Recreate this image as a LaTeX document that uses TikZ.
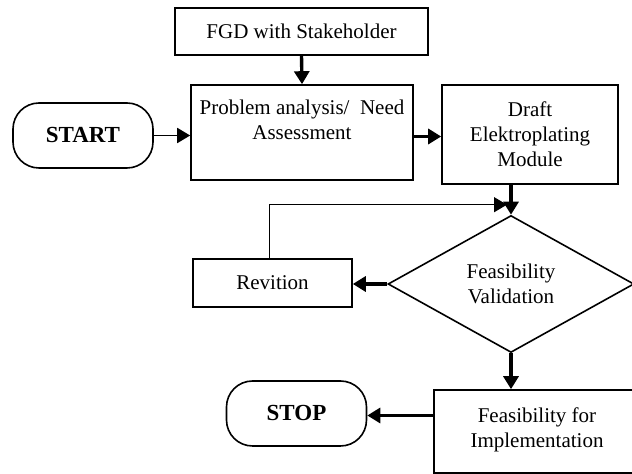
\documentclass[tikz,border=0pt]{standalone}
\usepackage{fontspec}
\setmainfont{Liberation Serif}
\usepackage{tikz}
\usetikzlibrary{shapes.geometric,arrows.meta}

\begin{document}
\begin{tikzpicture}[
   x=0.5pt,y=-0.5pt,
   font=\fontsize{10.5}{12.6}\selectfont,
   box/.style={draw,line width=0.8pt,align=center,inner sep=2pt},
   term/.style={draw,line width=0.8pt,rounded corners=13pt,minimum width=70pt,minimum height=32.5pt,font=\fontsize{11.5}{13.8}\selectfont\bfseries},
   dia/.style={draw,line width=0.8pt,diamond,aspect=1.8,inner sep=0pt,align=center,minimum width=123pt,minimum height=68.5pt},
   arr/.style={-{Triangle[length=6.5pt,width=7.5pt]},line width=1.7pt},
   thin arr/.style={-{Triangle[length=6.5pt,width=7.5pt]},line width=0.9pt},
   fb/.style={-{Triangle[length=6.5pt,width=7.5pt]},line width=0.6pt}]
\useasboundingbox (0,0) rectangle (632,474);
\node[term] (start) at (83,135.5) {START};
\node[box,minimum width=126.5pt,minimum height=23.5pt] (fgd) at (301.5,31.5) {FGD with Stakeholder};
\node[box,minimum width=111pt,minimum height=47.5pt] (prob) at (302,132.5) {Problem analysis/~~Need\\Assessment\\\mbox{}};
\node[box,minimum width=88pt,minimum height=49.5pt] (draft) at (530,134.5) {Draft\\Elektroplating\\Module};
\node[dia] (val) at (511,284) {Feasibility\\Validation};
\node[box,minimum width=79.5pt,minimum height=24pt] (rev) at (272.5,283) {Revition};
\node[box,minimum width=103pt,minimum height=41.5pt] (impl) at (537,431.5) {Feasibility for\\Implementation\\[-9pt]\mbox{}};
\node[term] (stop) at (296.5,413.5) {STOP};
\draw[thin arr] (start.east) -- (start.east -| prob.west);
\draw[arr] (fgd.south) -- (prob.north);
\draw[arr] ([yshift=-2pt]prob.east) -- ([yshift=-2pt]prob.east -| draft.west);
\draw[arr] (val.north |- draft.south) -- (val.north);
\draw[fb] ([xshift=-1.5pt]rev.north) |- ([xshift=-2pt,yshift=5pt]val.north);
\draw[arr] (val.west) -- (val.west -| rev.east);
\draw[arr] (val.south) -- (val.south |- impl.north);
\draw[arr] ([yshift=-1pt]stop.east -| impl.west) -- ([yshift=-1pt]stop.east);
\end{tikzpicture}
\end{document}
